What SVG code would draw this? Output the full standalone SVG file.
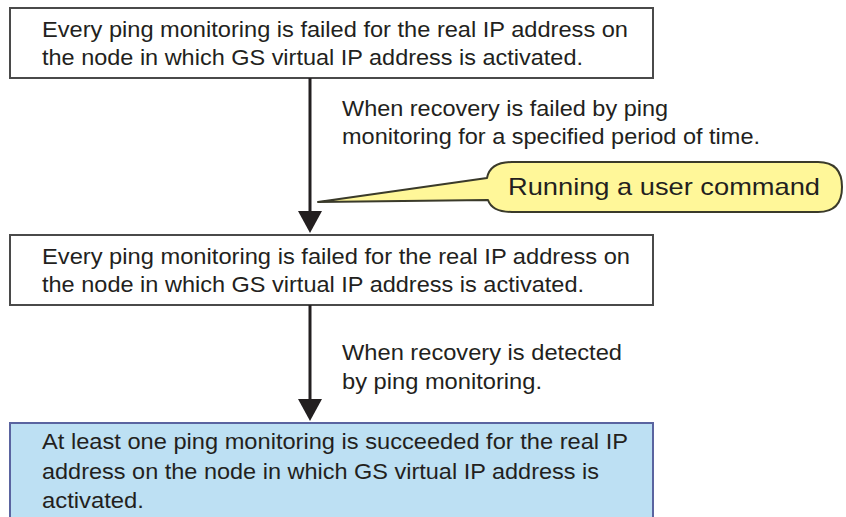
<svg xmlns="http://www.w3.org/2000/svg" width="846" height="517" viewBox="0 0 846 517">
<defs>
<style>
.t{font-family:"Liberation Sans",Arial,sans-serif;font-size:22px;fill:#231f20}
.box{fill:#ffffff;stroke:#4a4a4a;stroke-width:2}
.blue{fill:#bde0f3;stroke:#5a64a0;stroke-width:2}
.line{stroke:#231f20;stroke-width:3;fill:none}
.head{fill:#231f20}
</style>
</defs>
<rect width="846" height="517" fill="#ffffff"/>
<g id="node1">
<rect class="box" x="10" y="8" width="643" height="70"/>
<text class="t" x="42" y="37" textLength="586" lengthAdjust="spacingAndGlyphs">Every ping monitoring is failed for the real IP address on</text>
<text class="t" x="42" y="65" textLength="541" lengthAdjust="spacingAndGlyphs">the node in which GS virtual IP address is activated.</text>
</g>
<g id="node2">
<rect class="box" x="10" y="235" width="643" height="70"/>
<text class="t" x="42" y="264" textLength="588" lengthAdjust="spacingAndGlyphs">Every ping monitoring is failed for the real IP address on</text>
<text class="t" x="42" y="292" textLength="542" lengthAdjust="spacingAndGlyphs">the node in which GS virtual IP address is activated.</text>
</g>
<g id="node3">
<rect class="blue" x="10" y="423" width="643" height="100"/>
<text class="t" x="42" y="449" textLength="586" lengthAdjust="spacingAndGlyphs">At least one ping monitoring is succeeded for the real IP</text>
<text class="t" x="42" y="479" textLength="557" lengthAdjust="spacingAndGlyphs">address on the node in which GS virtual IP address is</text>
<text class="t" x="42" y="508" textLength="102" lengthAdjust="spacingAndGlyphs">activated.</text>
</g>
<g id="callout">
<path d="M318,202 L487,178 Q490,162 512,162 L818,162 Q842,162 842,187 Q842,212 818,212 L512,212 Q492,212 488,200 Z" fill="#fff799" stroke="#3a3a2a" stroke-width="2" stroke-linejoin="round"/>
<text class="t" x="508" y="195" textLength="312" lengthAdjust="spacingAndGlyphs" style="font-size:24px">Running a user command</text>
</g>
<g id="connectors">
<line class="line" x1="310" y1="78" x2="310" y2="214"/>
<polygon class="head" points="298,211 322,211 310,233"/>
<text class="t" x="342" y="116" textLength="326" lengthAdjust="spacingAndGlyphs">When recovery is failed by ping</text>
<text class="t" x="342" y="144" textLength="418" lengthAdjust="spacingAndGlyphs">monitoring for a specified period of time.</text>
<line class="line" x1="310" y1="305" x2="310" y2="402"/>
<polygon class="head" points="298,399 322,399 310,421"/>
<text class="t" x="342" y="360" textLength="280" lengthAdjust="spacingAndGlyphs">When recovery is detected</text>
<text class="t" x="342" y="389" textLength="200" lengthAdjust="spacingAndGlyphs">by ping monitoring.</text>
</g>
</svg>
